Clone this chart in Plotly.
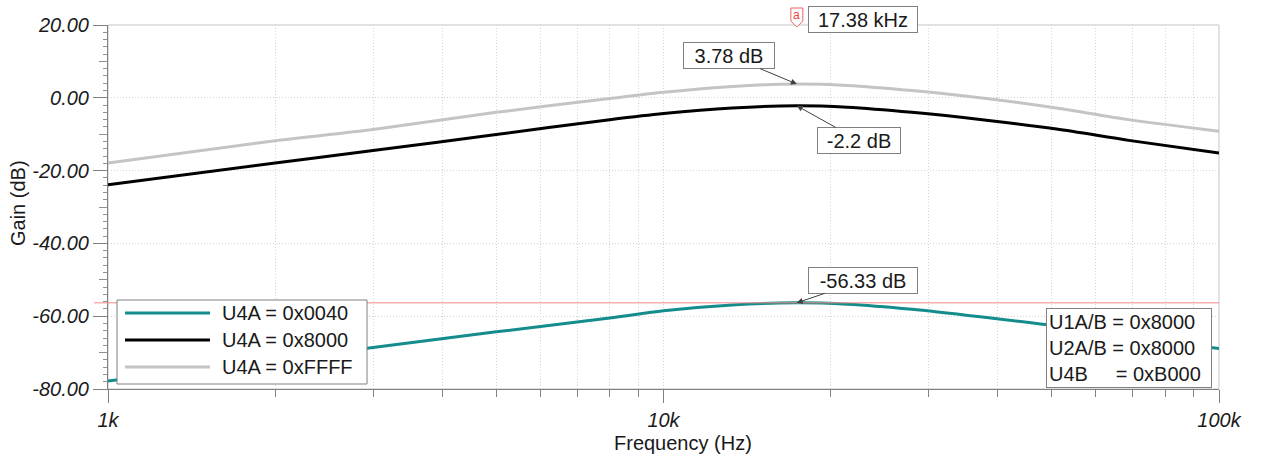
import math
import plotly.graph_objects as go

# ---------------- data ----------------
freq_hz = [1000, 2000, 3000, 5000, 8000, 10000, 13300, 17380, 21400, 28000, 37800, 51000, 68800, 100000]
gain_0x0040 = [-77.8, -72.0, -68.6, -64.3, -60.5, -58.5, -56.9, -56.33, -56.7, -58.1, -60.3, -62.7, -65.8, -68.9]
gain_0x8000 = [-23.9, -17.9, -14.5, -10.1, -6.0, -4.3, -2.8, -2.2, -2.6, -4.0, -6.1, -8.6, -11.7, -15.2]
gain_0xFFFF = [-17.9, -11.8, -8.7, -4.0, -0.2, 1.5, 3.1, 3.78, 3.4, 2.0, -0.1, -2.8, -6.0, -9.2]

series_names = ["U4A = 0x0040", "U4A = 0x8000", "U4A = 0xFFFF"]
series_values = [gain_0x0040, gain_0x8000, gain_0xFFFF]
series_colors = ["#148c8c", "#000000", "#c4c4c4"]

y_tickvals = [-80, -60, -40, -20, 0, 20]
y_ticktext = ["-80.00", "-60.00", "-40.00", "-20.00", "0.00", "20.00"]
y_midticks = [-70, -50, -30, -10, 10]
x_tickvals = [1000, 10000, 100000]
x_ticktext = ["1k", "10k", "100k"]
x_minor = [2000, 3000, 4000, 5000, 6000, 7000, 8000, 9000,
           20000, 30000, 40000, 50000, 60000, 70000, 80000, 90000]

cursor_freq = 17380
cursor_label = "17.38 kHz"
marker_values = [3.78, -2.2, -56.33]
marker_labels = ["3.78 dB", "-2.2 dB", "-56.33 dB"]
info_lines = ["U1A/B = 0x8000", "U2A/B = 0x8000", "U4B\u00a0\u00a0\u00a0\u00a0 = 0xB000"]

# ---------------- layout geometry ----------------
W, H = 1266, 462
L, R, T, B = 108, 47, 25, 73
PW, PH = W - L - R, H - T - B
FONT = "Liberation Sans"
TXT = "#1a1a1a"
GRID = "#d4d4d4"
DOTS = "1px,2px"


def px(x):
    return (x - L) / PW


def py(y):
    return (H - B - y) / PH


fig = go.Figure()
for name, vals, col in zip(series_names, series_values, series_colors):
    fig.add_trace(go.Scatter(x=freq_hz, y=vals, mode="lines", name=name,
                             line=dict(color=col, width=3, shape="spline", smoothing=0.8),
                             showlegend=False, hoverinfo="skip"))

# invisible trace to carry medium y ticks on an overlaying axis
fig.add_trace(go.Scatter(x=[freq_hz[0]], y=[0], yaxis="y2", mode="markers",
                         marker=dict(opacity=0), showlegend=False, hoverinfo="skip"))

tickfont = dict(family=FONT, size=20, color=TXT, style="italic")

fig.update_layout(
    width=W, height=H, autosize=False,
    margin=dict(l=L, r=R, t=T, b=B, pad=0),
    paper_bgcolor="white", plot_bgcolor="white",
    font=dict(family=FONT, size=20, color=TXT),
    xaxis=dict(type="log", range=[3, 5], tickvals=x_tickvals, ticktext=x_ticktext,
               ticks="outside", ticklen=13, tickcolor="#808080", tickwidth=1,
               tickfont=tickfont, showline=True, linecolor="#808080", linewidth=1,
               showgrid=True, gridcolor=GRID, griddash=DOTS, gridwidth=1,
               zeroline=False,
               minor=dict(tickvals=x_minor, ticks="outside", ticklen=7, tickcolor="#808080",
                          showgrid=True, gridcolor=GRID, griddash=DOTS)),
    yaxis=dict(range=[-80, 20], tickvals=y_tickvals, ticktext=y_ticktext,
               ticks="outside", ticklen=14, tickcolor="#808080", tickwidth=1,
               tickfont=tickfont, showline=True, linecolor="#808080", linewidth=1,
               showgrid=True, gridcolor=GRID, griddash=DOTS, zeroline=False,
               minor=dict(dtick=2, ticks="outside", ticklen=4, tickcolor="#909090",
                          showgrid=False)),
    yaxis2=dict(range=[-80, 20], overlaying="y", side="left", anchor="x",
                tickvals=y_midticks, ticks="outside", ticklen=8, tickcolor="#909090",
                showticklabels=False, showgrid=False, zeroline=False, showline=False),
)

shapes = []
# plot frame (top/right)
shapes.append(dict(type="rect", xref="paper", yref="paper", x0=0, x1=1, y0=0, y1=1,
                   line=dict(color="#c4c4c4", width=1), layer="below"))
# cursor lines
xc = math.log10(cursor_freq)
shapes.append(dict(type="line", xref="x", yref="paper", x0=xc, x1=xc,
                   y0=py(411), y1=py(22), line=dict(color="#f08a8a", width=1), layer="above"))
shapes.append(dict(type="line", xref="paper", yref="y", x0=px(94), x1=1,
                   y0=marker_values[2], y1=marker_values[2],
                   line=dict(color="#f08a8a", width=1), layer="above"))
# cursor flag
cx = (xc - 3) / 2
hw = 6 / PW
fy = [py(8), py(21), py(27)]
shapes.append(dict(type="path", xref="paper", yref="paper",
                   path=f"M {cx-hw} {fy[0]} L {cx+hw} {fy[0]} L {cx+hw} {fy[1]} L {cx} {fy[2]} L {cx-hw} {fy[1]} Z",
                   fillcolor="white", line=dict(color="#f06060", width=1), layer="above"))

# custom legend
lx0, lx1, ly0, ly1 = 117, 367, 300, 384
shapes.append(dict(type="rect", xref="paper", yref="paper", x0=px(lx0), x1=px(lx1),
                   y0=py(ly1), y1=py(ly0), fillcolor="white",
                   line=dict(color="#808080", width=1), layer="above"))
annotations = []
for i, (name, col) in enumerate(zip(series_names, series_colors)):
    yy = 313 + i * 27
    shapes.append(dict(type="line", xref="paper", yref="paper", x0=px(125), x1=px(210),
                       y0=py(yy), y1=py(yy), line=dict(color=col, width=3), layer="above"))
    annotations.append(dict(xref="paper", yref="paper", x=px(220), y=py(yy),
                            xanchor="left", yanchor="middle", text=name, showarrow=False,
                            font=dict(family=FONT, size=20, color=TXT)))

fig.update_layout(shapes=shapes)

box = dict(bordercolor="#808080", borderwidth=1, bgcolor="white", borderpad=1,
           font=dict(family=FONT, size=20, color=TXT))
annotations.append(dict(xref="x", yref="paper", x=xc, y=py(19), xshift=11,
                        xanchor="left", yanchor="middle", text=cursor_label,
                        showarrow=False, width=106, height=23, **box))
annotations.append(dict(xref="paper", yref="paper", x=cx, y=py(15), xanchor="center",
                        yanchor="middle", text="a", showarrow=False,
                        font=dict(family=FONT, size=12, color="#f04040")))
arrow_offsets = [(-68, -28.5, 88), (62, 34.5, 80), (66, -22.5, 106)]
for val, lab, (ax, ay, w) in zip(marker_values, marker_labels, arrow_offsets):
    annotations.append(dict(xref="x", yref="y", x=xc, y=val, text=lab, showarrow=True,
                            ax=ax, ay=ay, arrowhead=2, arrowsize=1.2, arrowwidth=1,
                            arrowcolor="#404040", standoff=0, width=w, height=23, **box))
annotations.append(dict(xref="paper", yref="paper", x=px(1212), y=py(388),
                        xanchor="right", yanchor="bottom", align="left",
                        text="<br>".join(info_lines), showarrow=False, width=160,
                        bordercolor="#808080", borderwidth=1, bgcolor="white", borderpad=2,
                        font=dict(family=FONT, size=20, color=TXT)))
# axis titles
annotations.append(dict(xref="paper", yref="paper", x=px(683), y=py(443),
                        xanchor="center", yanchor="middle", text="Frequency (Hz)",
                        showarrow=False, font=dict(family=FONT, size=20, color=TXT)))
annotations.append(dict(xref="paper", yref="paper", x=px(18), y=py(203),
                        xanchor="center", yanchor="middle", text="Gain (dB)", textangle=-90,
                        showarrow=False, font=dict(family=FONT, size=20, color=TXT)))
fig.update_layout(annotations=annotations)

fig.write_html("out.html")
